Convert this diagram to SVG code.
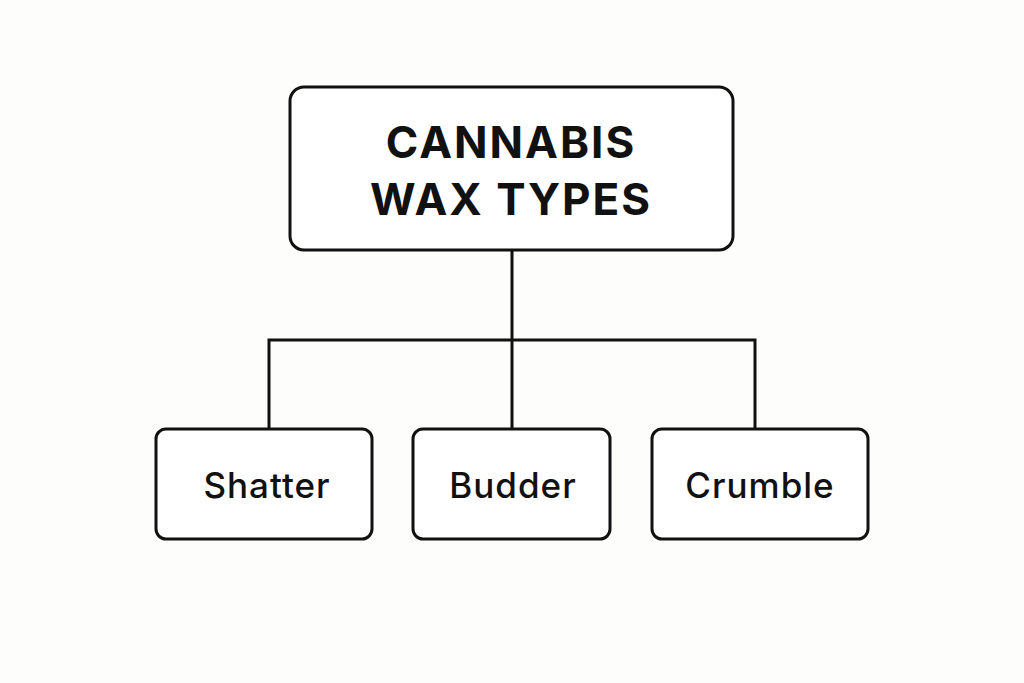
<svg xmlns="http://www.w3.org/2000/svg" width="1024" height="683" viewBox="0 0 1024 683">
<style>
.box{fill:#fff;stroke:#111;stroke-width:3}
.t{font-family:Inter,"Liberation Sans",sans-serif;fill:#111;text-anchor:middle}
.title{font-size:44px;font-weight:700;letter-spacing:2px}
.leaf{font-size:35px;font-weight:500;letter-spacing:1px}
.c{fill:none;stroke:#111;stroke-width:3}
</style>
<rect width="1024" height="683" fill="#fdfdfc"/>
<g id="connectors">
<path class="c" d="M512 250V340M269 428V340H755V428M512 340V428"/>
</g>
<g id="root"><rect class="box" x="290" y="87" width="443" height="163" rx="14"/>
<text class="t title" x="511" y="158">CANNABIS</text><text class="t title" x="511" y="215">WAX TYPES</text></g>
<g id="shatter"><rect class="box" x="156" y="429" width="216" height="110" rx="10"/><text class="t leaf" x="267" y="498">Shatter</text></g>
<g id="budder"><rect class="box" x="413" y="429" width="197" height="110" rx="10"/><text class="t leaf" x="513" y="498">Budder</text></g>
<g id="crumble"><rect class="box" x="652" y="429" width="216" height="110" rx="10"/><text class="t leaf" x="760" y="498">Crumble</text></g>
</svg>
